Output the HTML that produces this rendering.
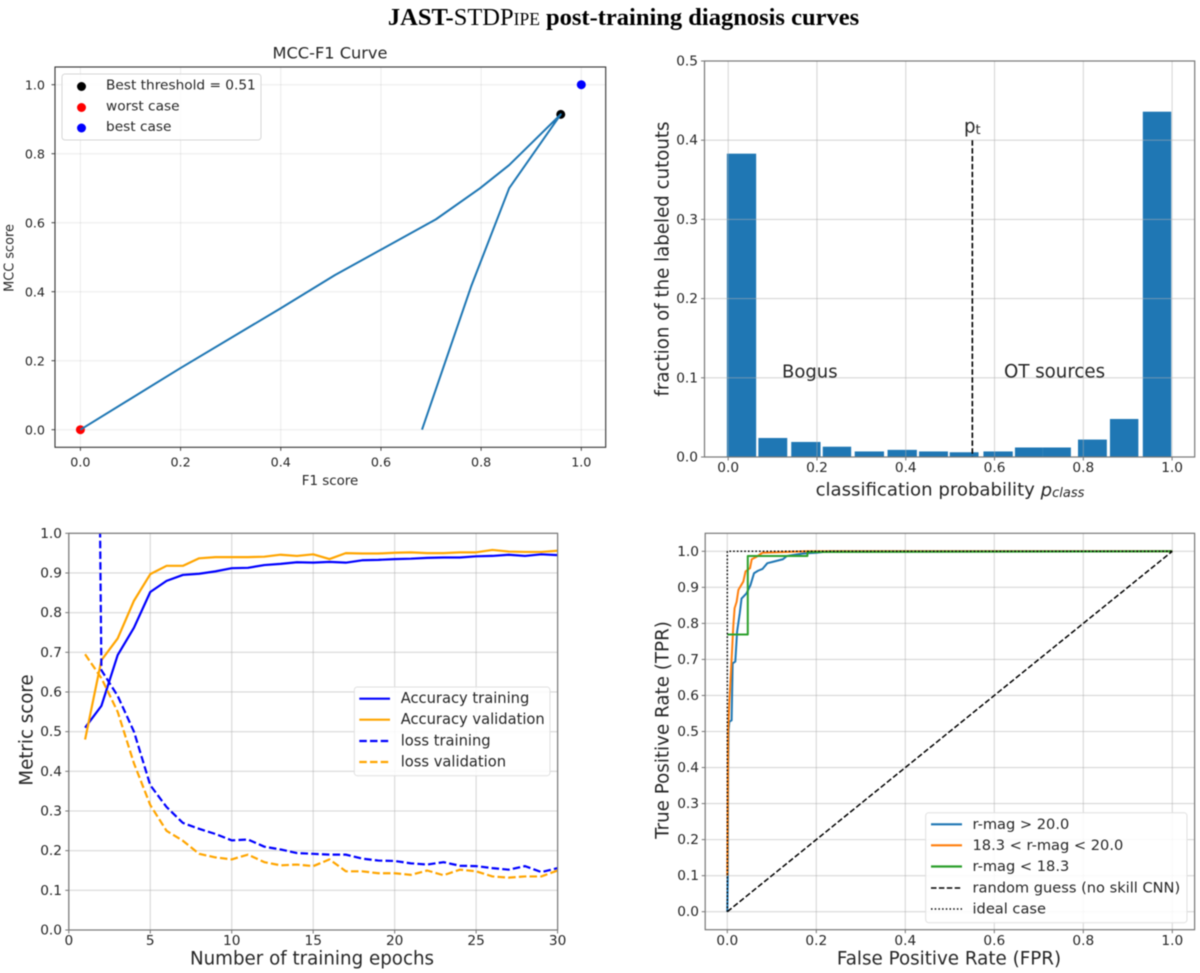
<!DOCTYPE html>
<html lang="en">
<head>
<meta charset="utf-8">
<title>JAST-STDPipe post-training diagnosis curves</title>
<style>
html,body{margin:0;padding:0;background:#fff;width:1200px;height:973px;overflow:hidden}
#fig{position:absolute;left:0;top:0;filter:blur(0.5px)}
text{font-family:"DejaVu Sans","Liberation Sans",sans-serif;fill:#262626}
</style>
</head>
<body>
<svg id="fig" xmlns="http://www.w3.org/2000/svg" width="1200" height="973" viewBox="0 0 1200 973">
  <defs>
    <clipPath id="clip-c"><rect x="68.8" y="533.3" width="488.8" height="396.7"/></clipPath>
  </defs>
  <text x="623.5" y="25" text-anchor="middle" style="font-family:'Liberation Serif',serif;font-size:24.5px;font-weight:bold;fill:#000">JAST-<tspan font-weight="normal">STDP<tspan font-size="17.5px">IPE</tspan></tspan> post-training diagnosis curves</text>
  <g id="panel-a"></g>
  <g id="panel-b"></g>
  <g id="panel-c"></g>
  <g id="panel-d"></g>

  <g>
    <text x="330" y="53" text-anchor="middle" dominant-baseline="central" font-size="16.2">MCC-F1 Curve</text>
    <text x="330" y="481.5" text-anchor="middle" dominant-baseline="central" font-size="13.4">F1 score</text>
    <text transform="translate(10 258) rotate(-90)" text-anchor="middle" dominant-baseline="central" font-size="12.9">MCC score</text>
  </g>
  <g>
    <rect x="62" y="74" width="199" height="66" rx="3" fill="#fff" fill-opacity="0.85" stroke="#d6d6d6" stroke-width="1"/>
    <circle cx="81.5" cy="86.5" r="4.5" fill="#000"/>
    <text x="106" y="85.5" dominant-baseline="central" font-size="13.7">Best threshold = 0.51</text>
    <circle cx="81.5" cy="107.5" r="4.5" fill="#f00"/>
    <text x="106" y="106.3" dominant-baseline="central" font-size="13.7">worst case</text>
    <circle cx="81.5" cy="128" r="4.5" fill="#00f"/>
    <text x="106" y="127" dominant-baseline="central" font-size="13.7">best case</text>
  </g>

  <g>
    <text x="950" y="490" text-anchor="middle" dominant-baseline="central" font-size="18.1">classification probability <tspan font-style="italic">p</tspan><tspan font-style="italic" font-size="13" dy="3">class</tspan></text>
    <text transform="translate(663 259) rotate(-90)" text-anchor="middle" dominant-baseline="central" font-size="18.2">fraction of the labeled cutouts</text>
    <text x="964" y="127" dominant-baseline="central" font-size="18.2">p<tspan font-size="13" dy="3">t</tspan></text>
    <text x="782" y="372" dominant-baseline="central" font-size="18">Bogus</text>
    <text x="1004" y="372" dominant-baseline="central" font-size="18.2">OT sources</text>
  </g>

  <g>
    <text x="312" y="959" text-anchor="middle" dominant-baseline="central" font-size="18.25">Number of training epochs</text>
    <text transform="translate(27 730) rotate(-90)" text-anchor="middle" dominant-baseline="central" font-size="18.2">Metric score</text>
  </g>
  <g>
    <rect x="354.3" y="687" width="195.7" height="88.7" rx="3" fill="#fff" fill-opacity="0.85" stroke="#e0e0e0" stroke-width="1"/>
    <line x1="359.3" x2="390" y1="698.7" y2="698.7" stroke="#00f" stroke-width="2.2"/>
    <text x="400.7" y="698.5" dominant-baseline="central" font-size="14.7">Accuracy training</text>
    <line x1="359.3" x2="390" y1="719.7" y2="719.7" stroke="#ffa500" stroke-width="2.2"/>
    <text x="400.7" y="719.5" dominant-baseline="central" font-size="14.7">Accuracy validation</text>
    <line x1="359.3" x2="390" y1="741" y2="741" stroke="#00f" stroke-width="2.2" stroke-dasharray="7.5 3.2"/>
    <text x="400.7" y="741" dominant-baseline="central" font-size="14.7">loss training</text>
    <line x1="359.3" x2="390" y1="762" y2="762" stroke="#ffa500" stroke-width="2.2" stroke-dasharray="7.5 3.2"/>
    <text x="400.7" y="762" dominant-baseline="central" font-size="14.7">loss validation</text>
  </g>

  <g>
    <text x="949" y="959" text-anchor="middle" dominant-baseline="central" font-size="18.3">False Positive Rate (FPR)</text>
    <text transform="translate(663 730) rotate(-90)" text-anchor="middle" dominant-baseline="central" font-size="18.3">True Positive Rate (TPR)</text>
  </g>
  <g>
    <rect x="925.7" y="812.7" width="261.3" height="110" rx="3" fill="#fff" fill-opacity="0.85" stroke="#e0e0e0" stroke-width="1"/>
    <line x1="931" x2="962" y1="824.3" y2="824.3" stroke="#1f77b4" stroke-width="2.2"/>
    <text x="972.5" y="824.3" dominant-baseline="central" font-size="14.6">r-mag &gt; 20.0</text>
    <line x1="931" x2="962" y1="845.3" y2="845.3" stroke="#ff7f0e" stroke-width="2.2"/>
    <text x="972.5" y="845.3" dominant-baseline="central" font-size="14.6">18.3 &lt; r-mag &lt; 20.0</text>
    <line x1="931" x2="962" y1="866.5" y2="866.5" stroke="#2ca02c" stroke-width="2.2"/>
    <text x="972.5" y="866.5" dominant-baseline="central" font-size="14.6">r-mag &lt; 18.3</text>
    <line x1="931" x2="962" y1="888" y2="888" stroke="#000" stroke-width="1.5" stroke-dasharray="5.5 2.4"/>
    <text x="972.5" y="888" dominant-baseline="central" font-size="14.6">random guess (no skill CNN)</text>
    <line x1="931" x2="962" y1="909" y2="909" stroke="#000" stroke-width="1.5" stroke-dasharray="1.5 2.2"/>
    <text x="972.5" y="909" dominant-baseline="central" font-size="14.6">ideal case</text>
  </g>
</svg>
<script>
// ---- MCC-F1 panel data ----
const f1Scores  = [0, 0.199, 0.40, 0.508, 0.71, 0.798, 0.856, 0.959, 0.856, 0.78, 0.682];
const mccScores = [0, 0.178, 0.352, 0.448, 0.61, 0.70, 0.767, 0.914, 0.70, 0.415, 0];
const bestPoint = [0.959, 0.914];
const worstCase = [0, 0];
const bestCase  = [1, 1];
const unitTicks = [0, 0.2, 0.4, 0.6, 0.8, 1.0];

// ---- Histogram panel data ----
const binStarts = [-0.003, 0.068, 0.142, 0.213, 0.285, 0.359, 0.430, 0.499, 0.575, 0.646, 0.709, 0.788, 0.860, 0.934];
const binEnds   = [0.063, 0.133, 0.208, 0.277, 0.351, 0.425, 0.495, 0.564, 0.641, 0.709, 0.772, 0.853, 0.924, 0.998];
const fractions = [0.383, 0.024, 0.019, 0.013, 0.007, 0.009, 0.007, 0.006, 0.007, 0.012, 0.012, 0.022, 0.048, 0.436];
const histYTicks = [0, 0.1, 0.2, 0.3, 0.4, 0.5];
const thresholdValue = 0.55;
const thresholdTop = 0.4;

// ---- Training metrics panel data ----
const epochs = [1,2,3,4,5,6,7,8,9,10,11,12,13,14,15,16,17,18,19,20,21,22,23,24,25,26,27,28,29,30];
const accuracyTraining = [0.51,0.565,0.693,0.762,0.852,0.88,0.895,0.898,0.904,0.912,0.913,0.92,0.923,0.927,0.926,0.928,0.926,0.932,0.933,0.935,0.936,0.938,0.939,0.939,0.942,0.943,0.946,0.943,0.947,0.945];
const accuracyValidation = [0.48,0.68,0.735,0.83,0.897,0.918,0.918,0.937,0.94,0.94,0.94,0.941,0.946,0.943,0.947,0.935,0.95,0.949,0.949,0.951,0.952,0.95,0.95,0.952,0.952,0.958,0.954,0.953,0.953,0.956];
const lossTraining = [5.0,0.655,0.59,0.5,0.365,0.31,0.27,0.255,0.242,0.226,0.228,0.21,0.203,0.194,0.192,0.19,0.19,0.18,0.175,0.174,0.168,0.165,0.171,0.162,0.161,0.156,0.152,0.161,0.146,0.156];
const lossValidation = [0.695,0.635,0.55,0.42,0.315,0.25,0.225,0.192,0.183,0.178,0.19,0.171,0.163,0.165,0.161,0.178,0.148,0.148,0.143,0.143,0.139,0.15,0.138,0.152,0.148,0.135,0.132,0.135,0.135,0.15];
const epochTicks = [0,5,10,15,20,25,30];
const metricTicks = [0,0.1,0.2,0.3,0.4,0.5,0.6,0.7,0.8,0.9,1.0];

// ---- ROC panel data ----
const fprFaint = [0,0.001,0.002,0.003,0.0045,0.0097,0.012,0.018,0.022,0.028,0.032,0.043,0.052,0.06,0.069,0.079,0.09,0.103,0.125,0.134,0.17,0.2,0.23,1];
const tprFaint = [0,0.1,0.4,0.504,0.527,0.531,0.689,0.694,0.777,0.828,0.869,0.883,0.906,0.939,0.946,0.951,0.967,0.971,0.978,0.987,0.994,0.996,1,1];
const fprMedium = [0,0.001,0.002,0.0045,0.0104,0.0134,0.0164,0.021,0.025,0.036,0.041,0.051,0.055,0.066,0.079,0.178,1];
const tprMedium = [0.1,0.3,0.5,0.578,0.717,0.791,0.842,0.86,0.893,0.916,0.944,0.953,0.978,0.985,0.996,1,1];
const fprBright = [0,0.046,0.046,0.18,0.18,1];
const tprBright = [0.769,0.769,0.987,0.987,0.998,1];
const fprRandom = [0,1];
const tprRandom = [0,1];
const fprIdeal = [0,0,1];
const tprIdeal = [0,1,1];

const SVGNS = 'http://www.w3.org/2000/svg';

function add(parent, tag, attrs, name, text) {
  const el = document.createElementNS(SVGNS, tag);
  Object.keys(attrs).forEach(function (k) { el.setAttribute(k, attrs[k]); });
  
  
  if (text !== undefined) el.textContent = text;
  parent.appendChild(el);
  return el;
}

function linear(d0, d1, p0, p1) {
  return function (v) { return p0 + (v - d0) * (p1 - p0) / (d1 - d0); };
}

function gridAndTicks(g, box, xs, ys, xTicks, yTicks, fmtX, opts) {
  xTicks.forEach(function (t) {
    add(g, 'line', {x1: xs(t), x2: xs(t), y1: box.top, y2: box.bottom, stroke: '#b0b0b0', 'stroke-width': opts.gridW, 'stroke-opacity': opts.gridOp}, 'x-grid-line-' + t);
    add(g, 'line', {x1: xs(t), x2: xs(t), y1: box.bottom, y2: box.bottom + 3.5, stroke: opts.frame, 'stroke-width': 0.9}, 'x-tick-' + t);
    add(g, 'text', {x: xs(t), y: opts.xLabelY, 'text-anchor': 'middle', 'dominant-baseline': 'central', 'font-size': opts.fs}, 'x-tick-label-' + t, fmtX(t));
  });
  yTicks.forEach(function (t) {
    add(g, 'line', {x1: box.left, x2: box.right, y1: ys(t), y2: ys(t), stroke: '#b0b0b0', 'stroke-width': opts.gridW, 'stroke-opacity': opts.gridOp}, 'y-grid-line-' + t);
    add(g, 'line', {x1: box.left - 3.5, x2: box.left, y1: ys(t), y2: ys(t), stroke: opts.frame, 'stroke-width': 0.9}, 'y-tick-' + t);
    add(g, 'text', {x: opts.yLabelX, y: ys(t) + 0.5, 'text-anchor': 'end', 'dominant-baseline': 'central', 'font-size': opts.fs}, 'y-tick-label-' + t, t.toFixed(1));
  });
}

function frame(g, box, color, w) {
  add(g, 'rect', {x: box.left, y: box.top, width: box.right - box.left, height: box.bottom - box.top, fill: 'none', stroke: color, 'stroke-width': w}, 'plot-frame');
}

function polyline(g, xv, yv, xs, ys, style, name) {
  const pts = xv.map(function (x, i) { return xs(x).toFixed(2) + ',' + ys(yv[i]).toFixed(2); }).join(' ');
  const attrs = {points: pts, fill: 'none', 'stroke-linejoin': 'round'};
  Object.keys(style).forEach(function (k) { attrs[k] = style[k]; });
  return add(g, 'polyline', attrs, name);
}

const fix1 = function (t) { return t.toFixed(1); };

// Panel A
(function () {
  const g = document.getElementById('panel-a');
  const box = {left: 55, right: 605.7, top: 67, bottom: 447.3};
  const xs = linear(0, 1, 80.4, 581.3);
  const ys = linear(0, 1, 429.7, 84.7);
  gridAndTicks(g, box, xs, ys, unitTicks, unitTicks, fix1, {gridW: 1, gridOp: 0.25, frame: '#333', fs: 12.7, xLabelY: 462, yLabelX: 45});
  add(g, 'circle', {cx: xs(worstCase[0]), cy: ys(worstCase[1]), r: 4.5, fill: '#f00'}, 'worst-case-point');
  add(g, 'circle', {cx: xs(bestCase[0]), cy: ys(bestCase[1]), r: 4.5, fill: '#00f'}, 'best-case-point');
  add(g, 'circle', {cx: xs(bestPoint[0]), cy: ys(bestPoint[1]), r: 4.5, fill: '#000'}, 'best-threshold-point');
  polyline(g, f1Scores, mccScores, xs, ys, {stroke: '#1f77b4', 'stroke-width': 2}, 'mcc-f1-curve');
  frame(g, box, '#333', 1.1);
})();

// Panel B
(function () {
  const g = document.getElementById('panel-b');
  const box = {left: 704.5, right: 1194.7, top: 61, bottom: 457};
  const xs = linear(0, 1, 728.2, 1172.1);
  const ys = linear(0, 0.5, 457, 61);
  fractions.forEach(function (f, i) {
    add(g, 'rect', {x: xs(binStarts[i]), y: ys(f), width: xs(binEnds[i]) - xs(binStarts[i]), height: ys(0) - ys(f), fill: '#1f77b4'}, 'histogram-bar-' + i);
  });
  gridAndTicks(g, box, xs, ys, unitTicks, histYTicks, fix1, {gridW: 1.1, gridOp: 0.5, frame: '#666', fs: 13.7, xLabelY: 468, yLabelX: 698});
  add(g, 'line', {x1: xs(thresholdValue), x2: xs(thresholdValue), y1: ys(thresholdTop), y2: ys(0), stroke: '#000', 'stroke-width': 1.6, 'stroke-dasharray': '5.5 2.4'}, 'threshold-line');
  frame(g, box, '#777', 1.2);
})();

// Panel C
(function () {
  const g = document.getElementById('panel-c');
  const box = {left: 68.8, right: 557.6, top: 533.3, bottom: 930};
  const xs = linear(0, 30, 68.8, 557.6);
  const ys = linear(0, 1, 930, 533.3);
  gridAndTicks(g, box, xs, ys, epochTicks, metricTicks, String, {gridW: 1.1, gridOp: 0.5, frame: '#666', fs: 13.7, xLabelY: 941, yLabelX: 62});
  const lines = add(g, 'g', {'clip-path': 'url(#clip-c)'}, 'training-curves');
  polyline(lines, epochs, accuracyTraining, xs, ys, {stroke: '#00f', 'stroke-width': 2.2}, 'accuracy-training-line');
  polyline(lines, epochs, accuracyValidation, xs, ys, {stroke: '#ffa500', 'stroke-width': 2.2}, 'accuracy-validation-line');
  polyline(lines, epochs, lossTraining, xs, ys, {stroke: '#00f', 'stroke-width': 2.2, 'stroke-dasharray': '7.5 3.2'}, 'loss-training-line');
  polyline(lines, epochs, lossValidation, xs, ys, {stroke: '#ffa500', 'stroke-width': 2.2, 'stroke-dasharray': '7.5 3.2'}, 'loss-validation-line');
  frame(g, box, '#777', 1.2);
})();

// Panel D
(function () {
  const g = document.getElementById('panel-d');
  const box = {left: 705.2, right: 1194.6, top: 533.3, bottom: 929.7};
  const xs = linear(0, 1, 727.3, 1172.3);
  const ys = linear(0, 1, 911.7, 551.3);
  gridAndTicks(g, box, xs, ys, unitTicks, metricTicks, fix1, {gridW: 1.1, gridOp: 0.5, frame: '#666', fs: 13.7, xLabelY: 941, yLabelX: 699});
  polyline(g, fprFaint, tprFaint, xs, ys, {stroke: '#1f77b4', 'stroke-width': 2}, 'roc-faint-line');
  polyline(g, fprMedium, tprMedium, xs, ys, {stroke: '#ff7f0e', 'stroke-width': 2}, 'roc-medium-line');
  polyline(g, fprBright, tprBright, xs, ys, {stroke: '#2ca02c', 'stroke-width': 2}, 'roc-bright-line');
  polyline(g, fprRandom, tprRandom, xs, ys, {stroke: '#000', 'stroke-width': 1.5, 'stroke-dasharray': '5.5 2.4'}, 'random-guess-line');
  polyline(g, fprIdeal, tprIdeal, xs, ys, {stroke: '#000', 'stroke-width': 1.5, 'stroke-dasharray': '1.5 2.2'}, 'ideal-case-line');
  frame(g, box, '#777', 1.2);
})();
</script>
</body>
</html>
